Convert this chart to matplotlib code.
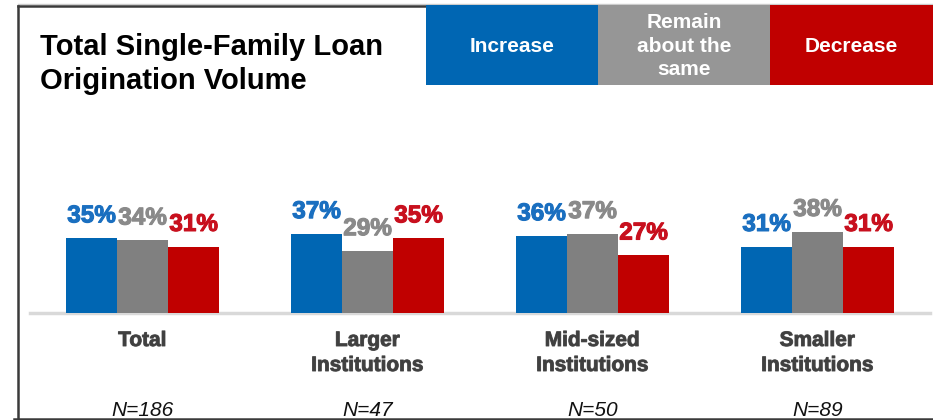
import matplotlib.pyplot as plt
import matplotlib.patheffects as pe
from matplotlib.patches import Rectangle
from matplotlib.lines import Line2D
import numpy as np

plt.rcParams['font.family'] = ['Liberation Sans', 'DejaVu Sans']

# Survey answers per institution group (share of respondents, %)
groups = ["Total", "Larger\nInstitutions", "Mid-sized\nInstitutions", "Smaller\nInstitutions"]
sample_sizes = ["N=186", "N=47", "N=50", "N=89"]
series_names = ["Increase", "Remain\nabout the\nsame", "Decrease"]
increase = [35, 37, 36, 31]
remain = [34, 29, 37, 38]
decrease = [31, 35, 27, 31]

bar_colors = ["#0066b3", "#808080", "#c00000"]
label_colors = ["#1a6fc0", "#8a8a8a", "#c8101e"]
legend_colors = ["#0066b3", "#969696", "#c00000"]

W, H = 933, 420
fig = plt.figure(figsize=(W / 100, H / 100), dpi=100)


def fx(px):
    return px / W


def fy(py):
    return 1 - py / H


# bar area: baseline at y=313 px, 2.14 px per percent
ax = fig.add_axes([fx(30), fy(313), fx(900), 214 / H])
ax.set_xlim(-0.5, 3.5)
ax.set_ylim(0, 100)
ax.axis("off")

x = np.arange(len(groups))
width = 51 / 225
series = [increase, remain, decrease]
for k, vals in enumerate(series):
    pos = x + (k - 1) * width
    ax.bar(pos, vals, width=width, color=bar_colors[k], zorder=3)
    for xi, v in zip(pos, vals):
        ax.annotate(f"{v}%", xy=(xi, v), xytext=(0, 16), textcoords="offset points",
                    ha="center", va="center", fontsize=17.5, fontweight="bold",
                    color=label_colors[k], zorder=4,
                    path_effects=[pe.withStroke(linewidth=0.8, foreground=label_colors[k])])

ax.axhline(0, color="#d9d9d9", linewidth=2.5, zorder=2, clip_on=False)

trans = ax.get_xaxis_transform()
for i, (g, n) in enumerate(zip(groups, sample_sizes)):
    ax.text(i, -18 / 214, g, transform=trans, ha="center", va="top", fontsize=15,
            fontweight="bold", color="#404040", linespacing=1.4,
            path_effects=[pe.withStroke(linewidth=0.7, foreground="#505050")])
    ax.text(i, -97 / 214, n, transform=trans, ha="center", va="center", fontsize=15,
            fontstyle="italic", color="#111111")

# title
fig.text(fx(40), fy(64), "Total Single-Family Loan\nOrigination Volume", ha="left", va="center",
         fontsize=21, fontweight="bold", color="black", linespacing=1.3)

# colour key boxes along the top edge
edges = [426, 598, 770, 933]
for k in range(3):
    x0, x1 = edges[k], edges[k + 1]
    fig.add_artist(Rectangle((fx(x0), fy(85)), fx(x1 - x0), 80 / H, transform=fig.transFigure,
                             facecolor=legend_colors[k], edgecolor="none", zorder=5))
    fig.text(fx((x0 + x1) / 2), fy(46), series_names[k], ha="center", va="center",
             fontsize=15, fontweight="bold", color="white", linespacing=1.3, zorder=6)

# frame
frame = dict(color="#3a3a3a", linewidth=1.8, transform=fig.transFigure)
fig.add_artist(Line2D([fx(18), fx(18)], [fy(6), fy(421)], **frame))
fig.add_artist(Line2D([fx(18), fx(426)], [fy(6), fy(6)], **frame))
fig.add_artist(Line2D([fx(14), fx(933)], [fy(419), fy(419)], **frame))
fig.add_artist(Line2D([fx(18), fx(933)], [fy(4), fy(4)], color="#cccccc", linewidth=1,
                      transform=fig.transFigure, zorder=1))

fig.savefig("out.png", dpi=100)
